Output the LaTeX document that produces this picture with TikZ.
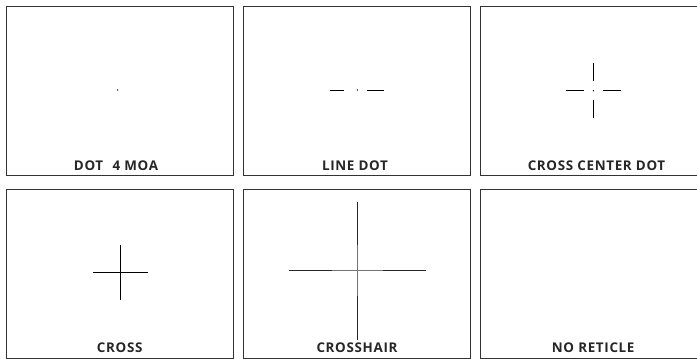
\documentclass[tikz,border=0pt]{standalone}
\usepackage{fontspec}
\setmainfont{Open Sans}
\newfontfamily\capfont[LetterSpace=5]{Open Sans}

\tikzset{
  panel/.style={draw=black!80, line width=0.9pt},
  caption/.style={anchor=base, inner sep=0pt, text=black!85,
    font=\capfont\bfseries\fontsize{13.4}{15}\selectfont},
  hair/.style={line width=0.8pt, black},
  thinhair/.style={line width=0.6pt, black!55},
  thickhair/.style={line width=1.4pt, black!85},
}

\begin{document}
\begin{tikzpicture}[x=1pt, y=-1pt]
    \useasboundingbox (0,0) rectangle (697,359);
    \clip (0,0) rectangle (697,359);

    % Panels
    \foreach \x in {6, 243.3, 480.7} {
        \foreach \y in {6, 189.3} {
            \draw[panel] (\x,\y) rectangle ++(227,169.2);
        }
    }

    % Captions
    \node[caption] (dotcap)   at (116,170.3) {DOT\hspace{0.7em}4 MOA};
    \node[caption] (linecap)  at (355,170.3)   {LINE DOT};
    \node[caption] (ccdcap)   at (596.5,170.3) {CROSS CENTER DOT};
    \node[caption] (crosscap) at (119.7,352.3) {CROSS};
    \node[caption] (haircap)  at (357,352.3)   {CROSSHAIR};
    \node[caption] (nonecap)  at (593.2,352.3) {NO RETICLE};

    % Dot 4 MOA
    \fill (117.7,90) circle (0.75);

    % Line dot
    \coordinate (ld) at (357.3,90);
    \fill (ld) circle (0.75);
    \draw[hair] ([xshift=-27.3]ld) -- ([xshift=-13]ld);
    \draw[hair] ([xshift=9.4]ld) -- ([xshift=27]ld);

    % Cross center dot
    \coordinate (ccd) at (593.3,90.7);
    \fill (ccd) circle (0.75);
    \foreach \a in {0,90,180,270} {
        \draw[hair] ([shift={(\a:9.5)}]ccd) -- ([shift={(\a:27.3)}]ccd);
    }

    % Cross
    \coordinate (cr) at (120.3,272.3);
    \draw[hair] ([xshift=-27.3]cr) -- ([xshift=27.3]cr);
    \draw[hair] ([yshift=-27.2]cr) -- ([yshift=27.2]cr);

    % Crosshair
    \coordinate (ch) at (357.3,270.7);
    \draw[thinhair] ([xshift=-26]ch) -- ([xshift=26]ch);
    \draw[thinhair] ([yshift=-26]ch) -- ([yshift=26]ch);
    \foreach \a in {0,90,180,270} {
        \draw[thickhair] ([shift={(\a:25.6)}]ch) -- ([shift={(\a:68.8)}]ch);
    }
\end{tikzpicture}
\end{document}
